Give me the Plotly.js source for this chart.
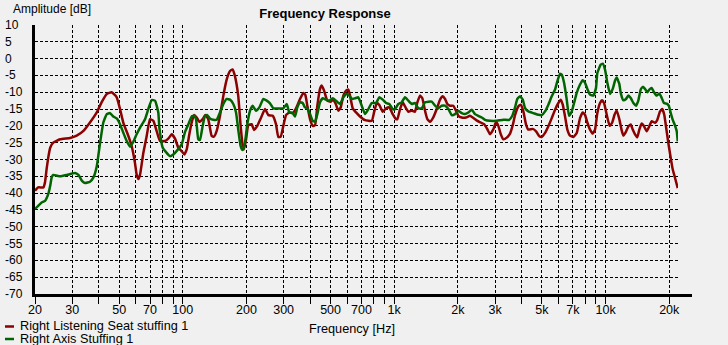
<!DOCTYPE html>
<html>
<head>
<meta charset="utf-8">
<script src="https://cdn.plot.ly/plotly-3.0.1.min.js"></script>
<style>html,body{margin:0;padding:0;background:#f0f0f0;}#chart{width:728px;height:345px;}</style>
</head>
<body>
<div id="chart"></div>
<script>
// ---- Data ----
const seriesNames = ["Right Listening Seat stuffing 1", "Right Axis Stuffing 1"];

const redFreq = [20,20.7,21.9,22.3,22.7,23.1,23.6,24.4,26.3,29.3,31.5,33.9,36.4,39.2,41.3,43.7,46.1,48.7,50.5,52.3,55.3,57.3,59.4,60.5,61.7,62.8,65.1,67.5,70,72.6,75.2,78,82.4,85.4,88.7,91.9,95.3,98.8,101.7,104.4,107.4,110.2,113,116.4,119.7,124.2,127.8,132,137,140.5,144.7,150,155.6,161.4,167.3,172.2,176.5,182.9,187.8,191.9,194.6,199,204.2,211.8,217.2,225.2,233.7,244.9,253.9,266.3,276,283,290.6,299,307.9,319.2,331.2,343.3,358.5,371.7,379.9,388.2,399.9,411.8,422.3,433,445.8,454.3,465.7,482.9,501.1,515.5,529.2,544.4,558.7,574.9,592,607,618.2,636.7,660,689.3,727.8,783.1,803,827,850.8,882.8,915.2,948.7,984,1020,1035,1066,1097,1138,1167,1210,1254,1287,1325,1359,1399,1435,1477,1531,1589,1648,1697,1740,1784,1837,1904,1961,2011,2086,2187,2283,2386,2474,2567,2661,2759,2841,2945,3033,3110,3193,3284,3408,3532,3637,3729,3866,3968,4083,4204,4311,4523,4689,4861,4989,5171,5361,5562,5766,5977,6136,6270,6429,6592,6788,7037,7301,7568,7795,7993,8196,8440,8690,8913,9138,9411,9617,9830,10123,10450,10750,11020,11287,11611,11919,12130,12420,12807,13149,13437,13776,14125,14437,14818,15194,15645,16094,16521,17126,17561,18085,18541,18941,19297,19803,20330,20780,21303,21939];
const redDb = [-39.3,-38.3,-38.3,-36.8,-32.8,-29.5,-26.5,-25,-24,-23.6,-22.9,-21.5,-19,-16,-13,-10.5,-10,-11.5,-15,-19,-23,-26,-31,-34.5,-35.8,-34.5,-28,-23,-18,-18.5,-21.5,-24.5,-24.5,-23.8,-22.5,-23.8,-26.5,-27.5,-28.5,-27,-22.5,-19,-16.8,-17.5,-18.8,-18,-16.8,-18,-23,-23.2,-21.5,-17,-11,-6.2,-3.7,-3.2,-5.2,-11,-20,-25.7,-27,-24.2,-19.8,-19.5,-21.2,-20,-17.8,-15,-16.8,-17,-19.5,-23.3,-23.2,-20,-16.8,-16,-16.2,-14.8,-12,-10.2,-10.8,-14,-18,-20,-19.8,-14,-9,-8,-9.5,-12.5,-12.8,-12.2,-13.5,-15.5,-14.5,-11,-9.5,-9.2,-11,-14.8,-16,-17.2,-18.3,-18.5,-16,-13.2,-13.8,-15.8,-14.8,-14.5,-16.5,-18,-18,-15,-13,-14.8,-15.8,-15.5,-15.8,-13,-11,-11.8,-15.5,-18,-18.8,-17.5,-15,-12.2,-11.2,-12,-13.5,-14,-14,-15.5,-17,-17.5,-17.5,-17,-17.8,-18.5,-19,-19.5,-21,-22.5,-21,-18.8,-20,-22.5,-24,-23.5,-22.3,-19.8,-16.8,-14.2,-13.7,-15.7,-19.6,-21.1,-20.9,-21.6,-23.1,-23.3,-22.1,-20.1,-17.7,-15.2,-13.2,-12.2,-13.7,-17.2,-21.1,-22.9,-23.3,-22.1,-17.7,-16,-16.7,-19,-21.1,-22.3,-21.1,-16.2,-13.2,-12.4,-13.2,-16.7,-20,-19,-16.7,-15.4,-18,-21.4,-22.9,-22,-20.2,-19.6,-21.1,-22.5,-23.4,-21.1,-19.3,-20.1,-21.6,-20.1,-18.6,-19.1,-18.2,-15.7,-15,-16.7,-20.1,-25.1,-29.6,-33,-35.5,-38.5];

const greenFreq = [20,20.7,21.5,22.3,23.1,23.6,24,24.4,26.3,28.3,30.9,32.1,33.3,34.5,36.4,37.8,39.2,40.6,42.1,43.7,45.3,46.9,48.7,50.5,52.3,54.3,56.3,58.3,60.5,62.8,66.3,68.7,71.3,73.9,76.6,77.5,80.4,83.3,87,90.2,94.3,98.8,102.5,106.3,110.2,113,115.5,118.4,120.6,124.2,127.4,130.6,134.5,139.5,144.7,150,155.6,161.4,167.3,173.4,178.6,182.9,187.8,191.9,196.9,201.9,208,214.1,221.9,230.3,240.4,249.5,258.6,268.1,283,299,310.1,319.2,331.2,339.6,348.2,358.5,369,378.6,388.2,399.9,411.8,422.3,433,445.8,459.2,476.1,493.4,511.8,530.9,554.4,574.9,596,613.5,629.7,652.9,676.7,702.3,727.8,754.8,783.1,820.7,850.8,882.8,915.2,948.7,984,1009,1046,1085,1125,1167,1210,1254,1301,1350,1399,1451,1505,1561,1617,1678,1740,1805,1871,1940,2011,2086,2163,2242,2327,2412,2500,2594,2689,2841,3055,3284,3500,3620,3729,3824,3938,4055,4159,4311,4553,4808,4989,5171,5361,5562,5766,5912,6089,6203,6361,6548,6715,6916,7093,7301,7568,7795,7993,8196,8440,8749,9008,9138,9483,9692,9940,10193,10495,10807,11086,11287,11484,11611,11791,12130,12490,12807,13149,13531,13933,14278,14659,14984,15362,15752,16094,16521,16940,17449,17950,18427,18870,19456,19894,20330,20780,21303,21700,21939];
const greenDb = [-44.7,-43.8,-42.8,-42.3,-40.3,-37.8,-35.3,-34.6,-35,-34.6,-34,-34.6,-36.3,-37,-36.6,-35.3,-32,-25.2,-19,-16.5,-16.2,-17.2,-17.8,-19.5,-22,-24.5,-26.2,-24.8,-22.5,-20.5,-18,-15,-12.3,-12.5,-16,-20.5,-26.5,-27.8,-29,-28.5,-27.2,-25.5,-21.8,-19.5,-17.2,-17,-18,-24,-24.2,-20,-17,-16.8,-17.8,-18.2,-18.2,-16,-13.5,-12,-12.2,-13.5,-16,-21,-26,-27.2,-25,-19.5,-15.5,-14,-15.5,-14.5,-12,-12.5,-13.3,-14.8,-14.8,-14.8,-13.5,-16,-16.2,-17.2,-14.5,-13,-13.2,-14.5,-14.8,-16.5,-18.5,-18.8,-16.5,-13,-11.8,-12.2,-12.5,-11.8,-12.5,-13.5,-11.5,-10.5,-11,-12,-11.8,-11.5,-14,-16.5,-15,-13.2,-13.2,-11.5,-12.2,-13.2,-13.5,-15,-15,-13.5,-13,-11.5,-12.5,-13.5,-13.2,-14.8,-14.8,-13,-12.8,-12.8,-14,-14.8,-14,-14,-15,-16.8,-16.5,-15.5,-16.2,-16.5,-16,-15.2,-16.5,-17,-17.5,-18.2,-18.5,-18.5,-18.2,-18.2,-17,-14.5,-12,-11.2,-12.2,-14.7,-15.7,-16.2,-16.7,-16.8,-15.7,-13.7,-11.2,-9.2,-6.7,-4.5,-4.8,-7.2,-12.2,-17,-15.7,-13.2,-10.2,-7.7,-6.4,-7.2,-9,-10.7,-11,-8.7,-4.3,-1.8,-1.5,-3.3,-7.2,-10.5,-9,-6.5,-5.6,-6.7,-7.5,-10.2,-12.4,-12,-11,-11.7,-13.2,-14,-12.5,-9.2,-8.4,-9,-10,-9.2,-8.7,-10,-11,-10.4,-11.7,-13.2,-13.4,-14,-16.2,-18.2,-19.9,-21.6,-24.6];

const xGridFreqs = [20,30,40,50,60,70,80,90,100,200,300,400,500,600,700,800,900,1000,2000,3000,4000,5000,6000,7000,8000,9000,10000,20000];
const xTickText  = ["20","30","","50","","70","","","100","200","300","","500","","700","","","1k","2k","3k","","5k","","7k","","","10k","20k"];
const yTicks = [10,5,0,-5,-10,-15,-20,-25,-30,-35,-40,-45,-50,-55,-60,-65,-70];
const seriesColors = ["#8b0000", "#006400"];

// ---- Layout helpers (pixel geometry) ----
const W = 728, H = 345, L = 35, R = 50, T = 25, B = 51;
const PW = W - L - R, PH = H - T - B;
const px = x => (x - L) / PW;          // pixel x -> paper x
const py = y => (H - B - y) / PH;      // pixel y -> paper y
const FONT = '"Liberation Sans", Arial, sans-serif';

const traces = [
  {x: redFreq, y: redDb, name: seriesNames[0], type: 'scatter', mode: 'lines',
   line: {color: seriesColors[0], width: 2.5, shape: 'spline', smoothing: 0.4}, hoverinfo: 'x+y'},
  {x: greenFreq, y: greenDb, name: seriesNames[1], type: 'scatter', mode: 'lines',
   line: {color: seriesColors[1], width: 2.5, shape: 'spline', smoothing: 0.4}, hoverinfo: 'x+y'}
];

const annotations = [];
yTicks.forEach(v => annotations.push({
  xref: 'paper', yref: 'y', x: px(3), y: v, xanchor: 'left', yanchor: 'middle',
  text: String(v), showarrow: false, font: {family: FONT, size: 12, color: '#000'}
}));
annotations.push({xref: 'paper', yref: 'paper', x: px(11), y: py(9), xanchor: 'left', yanchor: 'middle',
  text: 'Amplitude [dB]', showarrow: false, font: {family: FONT, size: 12, color: '#000'}});
annotations.push({xref: 'paper', yref: 'paper', x: px(351.5), y: py(329), xanchor: 'center', yanchor: 'middle',
  text: 'Frequency [Hz]', showarrow: false, font: {family: FONT, size: 12.7, color: '#000'}});
const shapes = [
  {type: 'line', xref: 'paper', yref: 'paper', x0: 1, x1: px(692), y0: py(295.5), y1: py(295.5),
   line: {color: '#000', width: 3}}
];
seriesNames.forEach((n, i) => {
  const yy = 326.5 + i * 12.5;
  shapes.push({type: 'line', xref: 'paper', yref: 'paper', x0: px(5), x1: px(14), y0: py(yy), y1: py(yy),
    line: {color: seriesColors[i], width: 2.5}});
  annotations.push({xref: 'paper', yref: 'paper', x: px(18), y: py(yy), xanchor: 'left', yanchor: 'middle',
    text: n, showarrow: false, font: {family: FONT, size: 12.7, color: '#000'}});
});

const layout = {
  width: W, height: H,
  margin: {l: L, r: R, t: T, b: B, pad: 0},
  paper_bgcolor: '#f0f0f0', plot_bgcolor: '#f0f0f0',
  showlegend: false,
  font: {family: FONT, size: 12, color: '#000'},
  title: {text: 'Frequency Response', font: {family: FONT, size: 13, weight: 'bold', color: '#000'},
          xref: 'container', yref: 'container', x: 325 / W, y: 1 - 13 / H, xanchor: 'center', yanchor: 'middle'},
  xaxis: {
    type: 'log', range: [Math.log10(20), Math.log10(22000)],
    tickmode: 'array', tickvals: xGridFreqs, ticktext: xTickText,
    showgrid: true, gridcolor: '#000', gridwidth: 1, griddash: '3px,2px',
    ticks: 'outside', ticklen: 7, tickcolor: '#000', tickwidth: 1, ticklabelstandoff: -5,
    showline: true, linecolor: '#000', linewidth: 3, zeroline: false,
    tickfont: {family: FONT, size: 12.5, color: '#000'}
  },
  yaxis: {
    range: [-70, 10], tickmode: 'array', tickvals: yTicks,
    showticklabels: false, ticks: '',
    showgrid: true, gridcolor: '#000', gridwidth: 1, griddash: '3px,2px',
    showline: true, linecolor: '#000', linewidth: 3, zeroline: false
  },
  annotations: annotations,
  shapes: shapes
};

Plotly.newPlot('chart', traces, layout, {staticPlot: true, displayModeBar: false});
</script>
</body>
</html>
